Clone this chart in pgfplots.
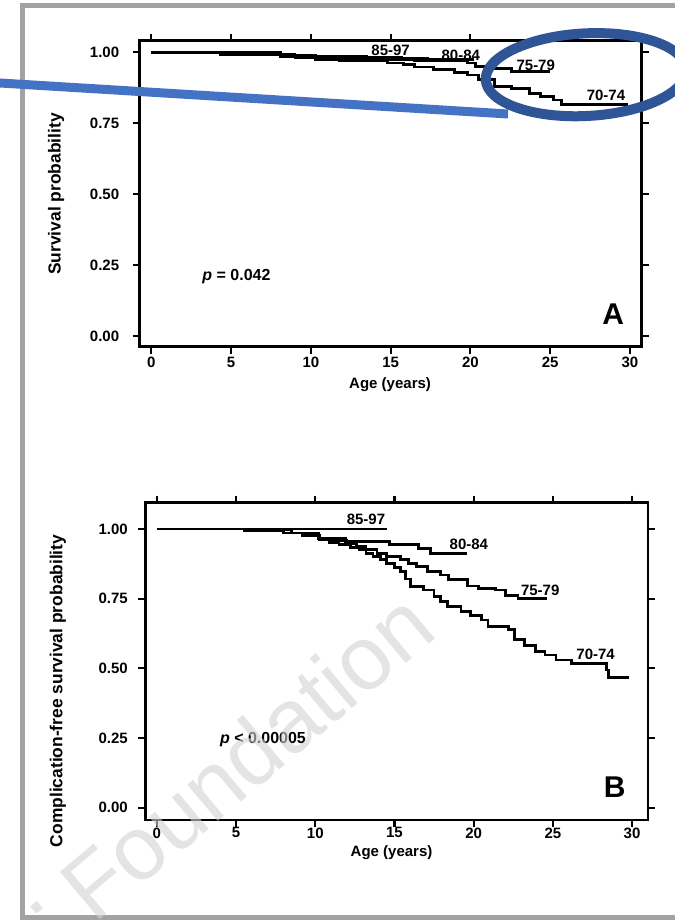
\documentclass[border=0pt]{standalone}
\usepackage{fontspec}
\setmainfont{Liberation Sans}
\usepackage{pgfplots}
\pgfplotsset{compat=1.18}
\definecolor{framegray}{RGB}{160,163,166}
\definecolor{callout}{RGB}{68,114,196}
\definecolor{ring}{RGB}{47,85,151}
\definecolor{wmark}{RGB}{210,210,210}
\newcommand{\tickfont}{\fontsize{15}{18}\selectfont\bfseries}
\newcommand{\ylabfont}{\fontsize{17.4}{20}\selectfont\bfseries}
\tikzset{curve/.style={font=\tickfont, anchor=center}}

\pgfplotsset{km/.style={
  scale only axis,
  axis line style={line width=2.8pt},
  tick style={line width=2.2pt, black},
  major tick length=7pt, tick align=outside,
  xtick={0,5,...,30}, ytick={0,0.25,0.5,0.75,1},
  /pgf/number format/assume math mode=true,
  ticklabel style={font=\tickfont},
  yticklabel style={/pgf/number format/fixed, /pgf/number format/fixed zerofill,
    /pgf/number format/precision=2},
  every axis plot post/.append style={black, line width=2.8pt, mark=none, const plot},
  xlabel={Age (years)},
  xlabel style={font=\tickfont, anchor=center},
  ylabel style={font=\ylabfont, anchor=center},
}}

\begin{document}
\begin{tikzpicture}
\useasboundingbox (0pt,0pt) rectangle (674pt,920pt);
\fill[white] (0pt,0pt) rectangle (674pt,920pt);
\draw[line width=5pt, framegray] (22.5pt,914.5pt) rectangle (700pt,2pt);

% panel A
\begin{axis}[km, at={(139.7pt,573.3pt)}, anchor=south west, width=501.8pt, height=306pt,
    xmin=-0.73, xmax=30.73, ymin=-0.038, ymax=1.041,
    yticklabel style={xshift=-10pt},
    ylabel={Survival probability},
    xlabel style={at={(axis description cs:0.499,0)}, yshift=-38pt},
    ylabel style={at={(axis description cs:-0.1668,0.499)}}]
  % 85-97
  \addplot coordinates {(0,1) (4.3,0.992) (9.0,0.982) (15.8,0.982)};
  % 80-84
  \addplot coordinates {(0,1) (8.1,0.990) (10.3,0.984) (13.5,0.978) (17.3,0.974) (20.2,0.974)};
  % 75-79
  \addplot coordinates {(0,1) (4.3,0.992) (9.0,0.985) (10.3,0.980) (14.8,0.974) (16.5,0.970)
    (19.8,0.962) (20.3,0.950) (21.1,0.944) (22.6,0.932) (25.0,0.932)};
  % 70-74
  \addplot coordinates {(0,1) (4.3,0.992) (8.1,0.985) (10.3,0.975) (11.8,0.970) (14.8,0.962)
    (15.8,0.956) (16.5,0.948) (17.7,0.940) (19.0,0.930) (19.8,0.920) (20.5,0.905)
    (21.5,0.880) (22.6,0.872) (23.7,0.855) (24.4,0.845) (25.2,0.832) (25.7,0.815) (29.9,0.815)};
  \node[curve] at (axis cs:15.0,1.006) {85-97};
  \node[curve] at (axis cs:19.4,0.990) {80-84};
  \node[curve] at (axis cs:24.1,0.955) {75-79};
  \node[curve] at (axis cs:28.5,0.847) {70-74};
  \node[font=\fontsize{16}{19}\selectfont\bfseries, anchor=center] at (axis cs:5.34,0.208)
    {\textit{p} = 0.042};
  \node[font=\fontsize{30}{34}\selectfont\bfseries, anchor=center] at (axis cs:28.95,0.078) {A};
\end{axis}

% panel B
\begin{axis}[km, at={(145.3pt,100pt)}, anchor=south west, width=502.6pt, height=317.3pt,
    xmin=-0.73, xmax=31.0, ymin=-0.044, ymax=1.094,
    yticklabel style={xshift=-7pt}, xticklabel style={yshift=3pt},
    ylabel={Complication-free survival probability},
    xlabel style={at={(axis description cs:0.49,0)}, yshift=-32.5pt},
    ylabel style={at={(axis description cs:-0.1737,0.407)}}]
  % 85-97
  \addplot coordinates {(0,1) (14.5,1)};
  % 80-84
  \addplot coordinates {(0,1) (6.0,0.996) (8.5,0.985) (10.2,0.967) (11.9,0.955) (14.7,0.943)
    (16.5,0.931) (17.3,0.913) (19.6,0.913)};
  % 75-79
  \addplot coordinates {(0,1) (6.0,0.996) (8.5,0.985) (10.2,0.965) (11.0,0.958) (11.95,0.949)
    (12.6,0.937) (13.2,0.925) (13.9,0.912) (14.5,0.901) (15.4,0.889) (15.9,0.877)
    (16.4,0.865) (17.1,0.847) (17.9,0.835) (18.4,0.819) (19.6,0.795) (20.3,0.787)
    (21.4,0.781) (22.0,0.760) (22.8,0.751) (24.6,0.751)};
  % 70-74
  \addplot coordinates {(0,1) (5.5,0.995) (8.0,0.985) (9.2,0.975) (10.25,0.961) (10.9,0.952)
    (11.5,0.943) (12.2,0.934) (12.8,0.925) (13.2,0.913) (13.65,0.901) (14.1,0.889)
    (14.5,0.877) (15.0,0.862) (15.4,0.847) (15.7,0.820) (16.0,0.793) (16.85,0.781)
    (17.5,0.757) (17.9,0.740) (18.35,0.721) (19.2,0.703) (19.8,0.690) (20.5,0.673)
    (20.9,0.650) (22.2,0.638) (22.6,0.602) (23.2,0.582) (23.9,0.560) (24.5,0.548)
    (25.2,0.530) (26.2,0.516) (28.2,0.516) (28.4,0.494) (28.5,0.468) (29.8,0.468)};
  \node[curve] at (axis cs:13.2,1.036) {85-97};
  \node[curve] at (axis cs:19.7,0.943) {80-84};
  \node[curve] at (axis cs:24.2,0.781) {75-79};
  \node[curve] at (axis cs:27.7,0.551) {70-74};
  \node[font=\fontsize{16}{19}\selectfont\bfseries, anchor=center] at (axis cs:6.70,0.243)
    {\textit{p} < 0.00005};
  \node[font=\fontsize{30}{34}\selectfont\bfseries, anchor=center] at (axis cs:28.9,0.074) {B};
\end{axis}

% watermark
\node[rotate=40, text=wmark, opacity=0.6, font=\fontsize{90}{100}\selectfont, anchor=center]
  at (246.5pt,164.5pt) {Foundation};
\node[rotate=40, text=wmark, opacity=0.6, font=\fontsize{90}{100}\selectfont]
  at (37pt,12pt) {.};

% callout
\draw[callout, line width=9pt] (-5pt,837.3pt) -- (508pt,806pt);
\draw[ring, line width=10pt, rotate around={3:(586pt,845.3pt)}]
  (586pt,845.3pt) ellipse [x radius=100.4pt, y radius=41.3pt];
\end{tikzpicture}
\end{document}
